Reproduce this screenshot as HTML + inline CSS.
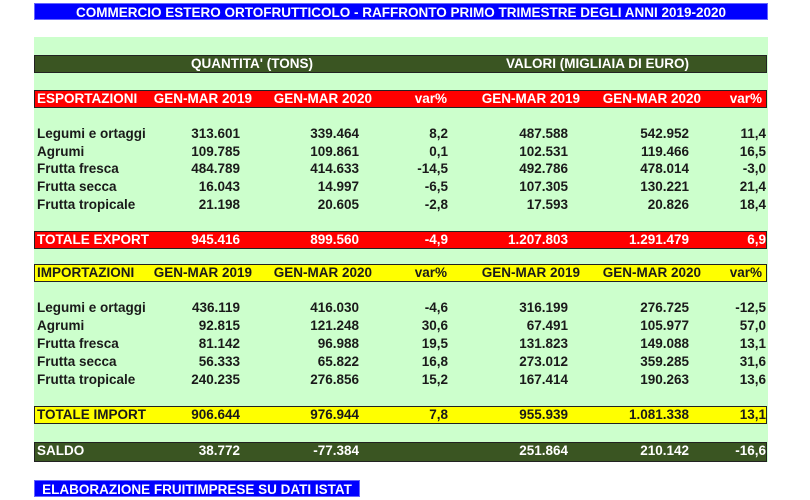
<!DOCTYPE html>
<html><head><meta charset="utf-8">
<style>
body{margin:0;width:810px;height:500px;background:#fff;position:relative;overflow:hidden;font-family:"Liberation Sans",Arial,sans-serif;font-weight:bold;font-size:13.5px;color:#1a1a1a}
.a{position:absolute;white-space:nowrap}
.bar{position:absolute;left:34px;width:733px;box-sizing:border-box;border:1px solid #222}
</style></head><body>
<div class="a" style="left:34px;top:3px;width:734px;height:17px;background:#0000ff;color:#fff;text-align:center;line-height:17px;font-size:13.5px;border:1px solid #66f;box-sizing:border-box">COMMERCIO ESTERO ORTOFRUTTICOLO - RAFFRONTO PRIMO TRIMESTRE DEGLI ANNI 2019-2020</div>
<div class="a" style="left:34px;top:37px;width:734px;height:425px;background:#ccffcc"></div>
<div class="bar" style="top:55px;height:18px;background:#3a5522;color:#fff"></div>
<div class="a" style="left:191px;top:56px;color:#fff">QUANTITA' (TONS)</div>
<div class="a" style="left:506px;top:56px;color:#fff">VALORI (MIGLIAIA DI EURO)</div>
<div class="bar" style="top:90px;height:18px;background:#ff0000"></div>
<div class="bar" style="top:231px;height:18px;background:#ff0000"></div>
<div class="bar" style="top:264px;height:18px;background:#ffff00"></div>
<div class="bar" style="top:406px;height:18px;background:#ffff00"></div>
<div class="bar" style="top:442px;height:20px;background:#3a5522"></div>
<div class="a" style="left:34px;top:480px;width:326px;height:17px;background:#0000ff;color:#fff;text-align:center;line-height:17px;border:1px solid #66f;box-sizing:border-box">ELABORAZIONE FRUITIMPRESE SU DATI ISTAT</div>
<div id="t"></div>
<script>
const rights=[240,359,448,568,689,766];
const cats=["Legumi e ortaggi","Agrumi","Frutta fresca","Frutta secca","Frutta tropicale"];
const expData=[["313.601","339.464","8,2","487.588","542.952","11,4"],["109.785","109.861","0,1","102.531","119.466","16,5"],["484.789","414.633","-14,5","492.786","478.014","-3,0"],["16.043","14.997","-6,5","107.305","130.221","21,4"],["21.198","20.605","-2,8","17.593","20.826","18,4"]];
const impData=[["436.119","416.030","-4,6","316.199","276.725","-12,5"],["92.815","121.248","30,6","67.491","105.977","57,0"],["81.142","96.988","19,5","131.823","149.088","13,1"],["56.333","65.822","16,8","273.012","359.285","31,6"],["240.235","276.856","15,2","167.414","190.263","13,6"]];
const expTot=["945.416","899.560","-4,9","1.207.803","1.291.479","6,9"];
const impTot=["906.644","976.944","7,8","955.939","1.081.338","13,1"];
const saldo=["38.772","-77.384","","251.864","210.142","-16,6"];
const hdr=["GEN-MAR 2019","GEN-MAR 2020","var%","GEN-MAR 2019","GEN-MAR 2020","var%"];
const hdrR=[252,372,447,580,701,762];
const t=document.getElementById('t');
function txt(x,y,s,color,right,name){
  const d=document.createElement('div');
  d.className='a';
  
  
  d.style.top=(y-8)+'px';d.style.color=color;
  if(right){d.style.right=(810-x)+'px';}else{d.style.left=x+'px';}
  d.textContent=s;t.appendChild(d);
}
function row(y,label,vals,color,rs,name){
  txt(37,y,label,color,false,name+'-label');
  vals.forEach((v,i)=>{if(v)txt(rs[i],y,v,color,true,name+'-cell');});
}
row(99,"ESPORTAZIONI",hdr,"#fff",hdrR,"export-header");
const ys1=[134,152,169,187,205],ys2=[308,326,344,362,380];
cats.forEach((c,i)=>row(ys1[i],c,expData[i],"#1a1a1a",rights,"export-row"));
row(240,"TOTALE EXPORT",expTot,"#fff",rights,"export-total");
row(273,"IMPORTAZIONI",hdr,"#1a1a1a",hdrR,"import-header");
cats.forEach((c,i)=>row(ys2[i],c,impData[i],"#1a1a1a",rights,"import-row"));
row(415,"TOTALE IMPORT",impTot,"#1a1a1a",rights,"import-total");
row(451,"SALDO",saldo,"#fff",rights,"balance");
</script>
</body></html>
